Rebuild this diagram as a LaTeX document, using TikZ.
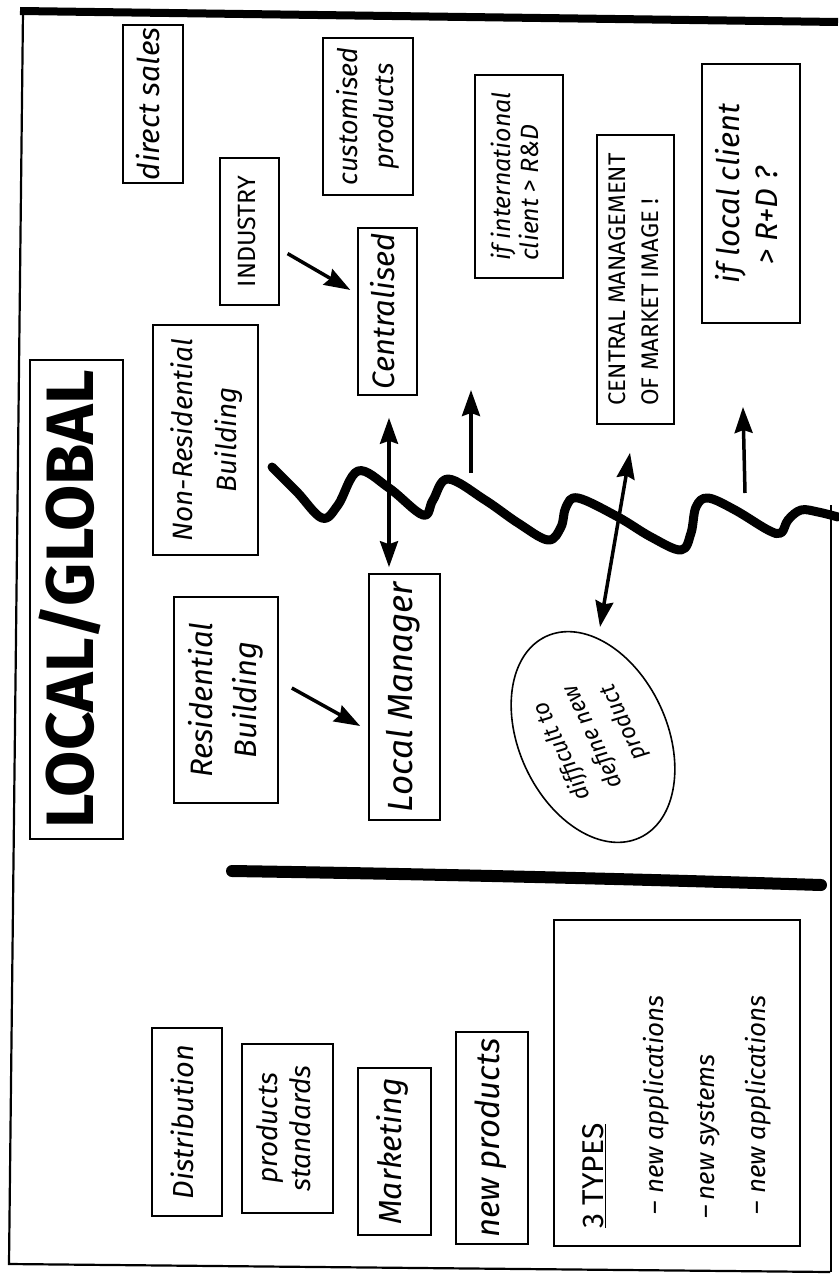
\documentclass[tikz,border=0pt]{standalone}
\usepackage{fontspec}
\setmainfont{Fira Sans}
\newfontfamily\capsf{Fira Sans}
\usetikzlibrary{arrows.meta,shapes.geometric,calc}
\newcommand{\rt}[2][c]{\rotatebox{90}{\begin{tabular}{@{}#1@{}}#2\end{tabular}}}
\newcommand{\fs}[2]{\fontsize{#1}{#2}\selectfont}
\begin{document}
\begin{tikzpicture}[x=1pt,y=-1pt,
  box/.style={draw, line width=1.6pt, inner sep=0pt, rectangle},
  hand/.style={font=\itshape},
  caps/.style={font=\capsf},
  tipst/.tip={Stealth[length=26pt,width=18pt,inset=3pt]},
  arr/.style={line width=3.5pt, -tipst},
  darr/.style={line width=3.5pt, tipst-tipst},
]
\useasboundingbox (0,0) rectangle (838,1279);
\fill[white] (0,0) rectangle (838,1279);

% frame
\draw[line width=8pt] (20,11) -- (838,22);
\draw[line width=2.2pt] (23,11) -- (9,1264) -- (830,1272);
\draw[line width=2pt] (831,505) -- (831,1272);

% boxes
\node[box, minimum width=60pt, minimum height=158pt, hand] (direct) at (153,104) {\fs{30}{32}\rt{direct sales}};
\node[box, minimum width=59pt, minimum height=147pt, caps] (industry) at (249.5,231.5) {\fs{25}{28}\rt{INDUSTRY}};
\node[box, minimum width=90pt, minimum height=157pt, hand] (custom) at (368,116.5) {\fs{27}{36}\rt{customised\\products}};
\node[box, minimum width=59pt, minimum height=167pt, hand] (central) at (387.5,311.5) {\fs{31}{34}\rt{Centralised}};
\node[box, minimum width=88pt, minimum height=203pt, hand] (intl) at (519,176.5) {\fs{25}{27}\rt[l]{if international\\client > R\&D}};
\node[box, minimum width=77pt, minimum height=289pt, caps] (cmgmt) at (635.5,279.5) {\fs{24}{33}\rt[l]{CENTRAL MANAGEMENT\\OF MARKET IMAGE !}};
\node[box, minimum width=98pt, minimum height=259pt, hand] (lclient) at (751,193.5) {\fs{31}{38}\rt[l]{if local client\\\hspace*{0.6em}> R+D ?}};
\node[box, minimum width=93pt, minimum height=479pt, font=\bfseries] (title) at (76.5,599.5) {\fs{67}{72}\rt{LOCAL/GLOBAL}};
\node[box, minimum width=105pt, minimum height=230pt, hand] (nonres) at (205.5,440) {\fs{28}{44}\rt{Non-Residential\\Building}};
\node[box, minimum width=104pt, minimum height=206pt, hand] (res) at (226,700) {\fs{31}{44}\rt{Residential\\Building}};
\node[box, minimum width=71pt, minimum height=246pt, hand] (lm) at (404.5,697) {\fs{35}{38}\rt{Local Manager}};
\node[draw, ellipse, line width=1.6pt, rotate=25, minimum width=148pt, minimum height=222pt, inner sep=0pt, hand] (diff) at (593,737) {\fs{23}{34}\rt{difficult to\\define new\\product}};

\node[box, minimum width=70pt, minimum height=188pt, hand] (distr) at (187,1122) {\fs{29}{32}\rt{Distribution}};
\node[box, minimum width=91pt, minimum height=169pt, hand] (prodstd) at (287.5,1128.5) {\fs{28}{33}\rt{products\\standards}};
\node[box, minimum width=73pt, minimum height=167pt, hand] (mkt) at (394.5,1151.5) {\fs{32}{35}\rt{Marketing}};
\node[box, minimum width=72pt, minimum height=212pt, hand] (newprod) at (492,1138) {\fs{33}{36}\rt{new products}};
\node[box, minimum width=246pt, minimum height=326pt, hand] (types) at (677,1083) {\fs{26}{51}\rotatebox{90}{\parbox{290pt}{\raggedright{\upshape\capsf\fontsize{30}{51}\selectfont\underline{3 TYPES}}\\[9pt]\hspace*{14pt}-- new applications\\\hspace*{10pt}--\,new systems\\\hspace*{14pt}-- new applications}}};

% connectors
\draw[arr, shorten <=9pt, shorten >=8pt] (industry) -- (central);
\draw[arr] ([shift={(13,-12)}]res.east) -- ([shift={(-8,29)}]lm.west);
\draw[darr] ([shift={(1.5,22)}]central.south) -- ([shift={(-15.5,-6)}]lm.north);
\draw[darr] ([shift={(-5.5,28)}]cmgmt.south) -- ($(diff.center)+(7,-110)$);
\coordinate (u1s) at (471,473);
\coordinate (u1e) at (471,390);
\coordinate (u2s) at (745,493);
\coordinate (u2e) at (743,407);
\draw[arr] (u1s) -- (u1e);
\draw[arr] (u2s) -- (u2e);

% separators
\draw[line width=12pt, line cap=round] (232,871) .. controls (420,874) and (600,878) .. (821,885);
\draw[line width=9pt, line cap=round, line join=round] plot[smooth, tension=0.6] coordinates {
 (272,467) (297,492) (322,518) (338,505) (358,471) (389,488) (423,515) (433,500) (448,479)
 (485,500) (518,523) (548,540) (561,527) (566,507) (578,498) (618,517) (651,537) (681,550)
 (691,533) (696,507) (708,498) (735,510) (768,530) (781,533) (788,520) (801,510) (818,512) (838,517)};
\end{tikzpicture}
\end{document}
